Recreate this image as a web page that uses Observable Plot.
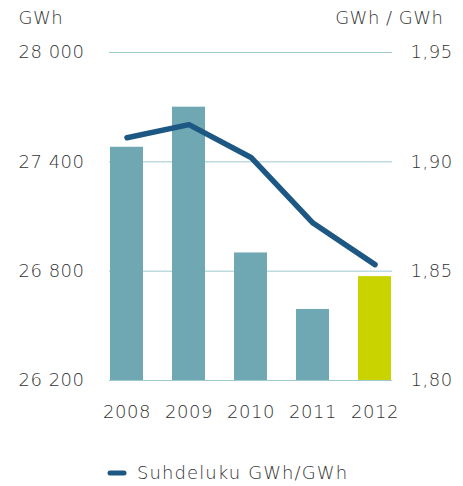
<!DOCTYPE html>
<html>
<head>
<meta charset="utf-8">
<script src="https://cdn.jsdelivr.net/npm/d3@7"></script>
<script src="https://cdn.jsdelivr.net/npm/@observablehq/plot@0.6"></script>
<style>
  html, body { margin: 0; padding: 0; background: #fff; overflow: hidden; }
  #chart svg { display: block; }
</style>
</head>
<body>
<div id="chart"></div>
<script>
const years = ["2008", "2009", "2010", "2011", "2012"];
const energy = [27480, 27700, 26900, 26590, 26770];     // GWh (left axis)
const ratio = [1.911, 1.917, 1.902, 1.872, 1.853];       // GWh / GWh (right axis)
const leftTicks = [26200, 26800, 27400, 28000];
const rightTicks = [1.80, 1.85, 1.90, 1.95];
const leftTitle = "GWh";
const rightTitle = "GWh / GWh";
const legendLabel = "Suhdeluku GWh/GWh";

const yMin = 26200, yMax = 28000, rMin = 1.80, rMax = 1.95;
const toLeft = v => yMin + (v - rMin) / (rMax - rMin) * (yMax - yMin);
const toRight = v => rMin + (v - yMin) / (yMax - yMin) * (rMax - rMin);

const data = years.map((y, i) => ({year: y, energy: energy[i], ratio: ratio[i], ratioL: toLeft(ratio[i])}));

const textColor = "#333";
const lineColor = "#1d5784";

// legend (line swatch + label), drawn below the x axis
function legendMark(index, scales, values, dims) {
  const g = d3.create("svg:g");
  const cy = dims.height - 13;
  const x0 = dims.marginLeft;
  g.append("line").attr("x1", x0 + 1).attr("x2", x0 + 15).attr("y1", cy).attr("y2", cy)
    .attr("stroke", lineColor).attr("stroke-width", 5).attr("stroke-linecap", "round");
  g.append("text").attr("x", x0 + 28).attr("y", cy).attr("dy", "0.35em")
    .attr("text-anchor", "start").attr("letter-spacing", "1.1px").attr("fill", textColor).text(legendLabel);
  return g.node();
}

const chart = Plot.plot({
  width: 463,
  height: 486,
  marginLeft: 109,
  marginRight: 71,
  marginTop: 52,
  marginBottom: 106,
  style: {fontFamily: "DejaVu Sans, sans-serif", fontWeight: 200, fontSize: "18px", letterSpacing: "0.5px", color: textColor, background: "#fff"},
  x: {domain: years, paddingInner: 0.472, paddingOuter: 0, label: null},
  y: {domain: [yMin, yMax], label: null},
  color: {type: "identity"},
  marks: [
    Plot.gridY(leftTicks, {stroke: "#9fc9d0", strokeOpacity: 1, strokeWidth: 1}),
    Plot.barY(data, {x: "year", y1: yMin, y2: "energy", fill: d => d.year === "2012" ? "#c8d300" : "#6fa8b3"}),
    Plot.line(data, {x: "year", y: "ratioL", stroke: lineColor, strokeWidth: 5.5, strokeLinecap: "round", strokeLinejoin: "round"}),
    Plot.axisY({anchor: "left", ticks: leftTicks, tickSize: 0, tickPadding: 25, fill: textColor,
      tickFormat: d => d3.format(",")(d).replace(/,/g, " "), label: null}),
    Plot.axisY({anchor: "right", ticks: rightTicks.map(toLeft), tickSize: 0, tickPadding: 18, fill: textColor,
      tickFormat: d => toRight(d).toFixed(2).replace(".", ","), label: null}),
    Plot.axisX({tickSize: 0, tickPadding: 25, fill: textColor, label: null}),
    Plot.text([leftTitle], {frameAnchor: "top-left", text: d => d, dx: -91, dy: -34, textAnchor: "start", lineAnchor: "middle", fill: textColor}),
    Plot.text([rightTitle], {frameAnchor: "top-right", text: d => d, dx: 51, dy: -34, textAnchor: "end", lineAnchor: "middle", fill: textColor}),
    legendMark
  ]
});
document.getElementById("chart").append(chart);
</script>
</body>
</html>
